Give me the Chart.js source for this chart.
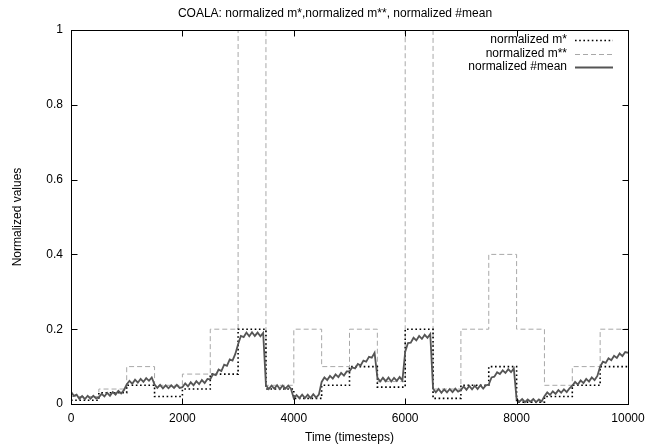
<!DOCTYPE html>
<html>
<head>
<meta charset="utf-8">
<script src="https://cdn.jsdelivr.net/npm/chart.js@4.4.1/dist/chart.umd.min.js"></script>
<style>
  html, body { margin: 0; padding: 0; background: #fff; }
  canvas { display: block; }
</style>
</head>
<body>
<canvas id="chart" width="670" height="448"></canvas>
<script>
// step levels, one value per 500-timestep block (last value repeated at 10000)
const stepTimes = [0, 500, 1000, 1500, 2000, 2500, 3000, 3500, 4000, 4500, 5000,
                   5500, 6000, 6500, 7000, 7500, 8000, 8500, 9000, 9500, 10000];
const mStar = [0.01, 0.03, 0.05, 0.02, 0.04, 0.08, 0.2, 0.04, 0.015, 0.05,
               0.1, 0.045, 0.2, 0.015, 0.05, 0.1, 0.005, 0.02, 0.05, 0.1, 0.1];
const mStarStar = [0.02, 0.04, 0.1, 0.05, 0.08, 0.2, 1, 0.05, 0.2, 0.1,
                   0.2, 0.06, 1, 0.04, 0.2, 0.4, 0.2, 0.05, 0.1, 0.2, 0.2];

// normalized #mean, read every 50 timesteps (noisy band)
const meanValues = [
  0.033, 0.022, 0.025, 0.014, 0.021, 0.013, 0.022, 0.014, 0.022, 0.015,
  0.018, 0.027, 0.020, 0.030, 0.022, 0.032, 0.025, 0.035, 0.028, 0.037,
  0.052, 0.062, 0.054, 0.065, 0.057, 0.067, 0.059, 0.069, 0.062, 0.071,
  0.052, 0.043, 0.051, 0.042, 0.050, 0.042, 0.050, 0.043, 0.051, 0.043,
  0.045, 0.055, 0.047, 0.058, 0.050, 0.061, 0.053, 0.064, 0.056, 0.067,
  0.066, 0.080, 0.077, 0.092, 0.088, 0.105, 0.102, 0.119, 0.116, 0.134,
  0.160, 0.182, 0.179, 0.191, 0.181, 0.192, 0.182, 0.191, 0.181, 0.190,
  0.050, 0.040, 0.049, 0.041, 0.050, 0.040, 0.049, 0.041, 0.049, 0.040,
  0.015, 0.024, 0.016, 0.025, 0.016, 0.025, 0.016, 0.026, 0.017, 0.025,
  0.059, 0.071, 0.064, 0.075, 0.068, 0.079, 0.072, 0.083, 0.076, 0.087,
  0.087, 0.098, 0.095, 0.107, 0.103, 0.116, 0.113, 0.126, 0.124, 0.137,
  0.071, 0.060, 0.070, 0.061, 0.071, 0.060, 0.070, 0.062, 0.072, 0.063,
  0.140, 0.163, 0.164, 0.177, 0.170, 0.182, 0.174, 0.185, 0.177, 0.187,
  0.041, 0.031, 0.040, 0.030, 0.039, 0.031, 0.040, 0.032, 0.041, 0.033,
  0.037, 0.047, 0.038, 0.048, 0.039, 0.049, 0.040, 0.050, 0.041, 0.050,
  0.052, 0.071, 0.073, 0.085, 0.080, 0.090, 0.083, 0.093, 0.085, 0.095,
  0.013, 0.006, 0.013, 0.005, 0.012, 0.006, 0.013, 0.005, 0.012, 0.007,
  0.021, 0.031, 0.024, 0.034, 0.027, 0.037, 0.030, 0.039, 0.032, 0.042,
  0.049, 0.059, 0.052, 0.063, 0.056, 0.067, 0.060, 0.071, 0.064, 0.075,
  0.100, 0.113, 0.110, 0.122, 0.117, 0.129, 0.123, 0.135, 0.128, 0.139,
  0.137
];
const meanTimes = meanValues.map((v, i) => i * 50);

const titleText = 'COALA: normalized m*,normalized m**, normalized #mean';
const legendLabels = ['normalized m*', 'normalized m**', 'normalized #mean'];

Chart.defaults.font.family = "'Liberation Sans', Arial, sans-serif";
Chart.defaults.font.size = 12;
Chart.defaults.color = '#000';

const toPoints = (xs, ys) => xs.map((x, i) => ({ x: x, y: ys[i] }));

// gnuplot-like frame, inward ticks, title and legend
const framePlugin = {
  id: 'frame',
  afterDatasetsDraw(chart) {
    const ctx = chart.ctx;
    const a = chart.chartArea;
    const x = chart.scales.x, y = chart.scales.y;
    const L = Math.round(a.left) + 0.5, R = Math.round(a.right) + 0.5;
    const T = Math.round(a.top) + 0.5, B = Math.round(a.bottom) + 0.5;
    ctx.save();
    ctx.strokeStyle = '#000';
    ctx.lineWidth = 1;
    ctx.setLineDash([]);
    ctx.strokeRect(L, T, R - L, B - T);
    ctx.beginPath();
    x.ticks.forEach(t => {
      const px = Math.round(x.getPixelForValue(t.value)) + 0.5;
      ctx.moveTo(px, B); ctx.lineTo(px, B - 6);
      ctx.moveTo(px, T); ctx.lineTo(px, T + 6);
    });
    y.ticks.forEach(t => {
      const py = Math.round(y.getPixelForValue(t.value)) + 0.5;
      ctx.moveTo(L, py); ctx.lineTo(L + 6, py);
      ctx.moveTo(R, py); ctx.lineTo(R - 6, py);
    });
    ctx.stroke();

    ctx.font = "12px 'Liberation Sans', Arial, sans-serif";
    ctx.fillStyle = '#000';
    ctx.textBaseline = 'middle';
    ctx.textAlign = 'center';
    ctx.fillText(titleText, chart.width / 2, 14);

    // legend, text right aligned with the sample on its right
    const order = [1, 2, 0];
    ctx.textAlign = 'right';
    order.forEach((di, row) => {
      const ds = chart.data.datasets[di];
      const ly = 40 + row * 13.5;
      ctx.fillText(legendLabels[row], 567, ly);
      ctx.strokeStyle = ds.borderColor;
      ctx.lineWidth = ds.borderWidth;
      ctx.setLineDash(ds.borderDash || []);
      ctx.beginPath();
      ctx.moveTo(575, Math.round(ly) + 0.5);
      ctx.lineTo(613, Math.round(ly) + 0.5);
      ctx.stroke();
    });
    ctx.restore();
  }
};

new Chart(document.getElementById('chart'), {
  type: 'line',
  data: {
    datasets: [
      {
        label: 'normalized #mean',
        data: toPoints(meanTimes, meanValues),
        borderColor: '#555555',
        borderWidth: 1.8,
        pointRadius: 0,
        tension: 0
      },
      {
        label: 'normalized m*',
        data: toPoints(stepTimes, mStar),
        stepped: true,
        borderColor: '#000000',
        borderWidth: 1.6,
        borderDash: [1.6, 2.6],
        pointRadius: 0
      },
      {
        label: 'normalized m**',
        data: toPoints(stepTimes, mStarStar),
        stepped: true,
        borderColor: '#a8a8a8',
        borderWidth: 1,
        borderDash: [5, 3],
        pointRadius: 0
      }
    ]
  },
  options: {
    responsive: false,
    animation: false,
    layout: { padding: { left: 0, right: 42, top: 30, bottom: 0 } },
    plugins: {
      legend: { display: false },
      tooltip: { enabled: false },
      title: { display: false }
    },
    scales: {
      x: {
        type: 'linear',
        min: 0,
        max: 10000,
        grid: { display: false, drawTicks: false },
        border: { display: false },
        ticks: { stepSize: 2000, padding: 7, maxRotation: 0, callback: v => String(v) },
        title: { display: true, text: 'Time (timesteps)', padding: { top: 0, bottom: 3 } },
        afterFit: s => { s.height = 44; }
      },
      y: {
        min: 0,
        max: 1,
        grid: { display: false, drawTicks: false },
        border: { display: false },
        ticks: { stepSize: 0.2, padding: 8, callback: v => String(Math.round(v * 10) / 10) },
        title: { display: true, text: 'Normalized values', padding: { top: 10, bottom: 0 } },
        afterFit: s => { s.width = 71; }
      }
    }
  },
  plugins: [framePlugin]
});
</script>
</body>
</html>
